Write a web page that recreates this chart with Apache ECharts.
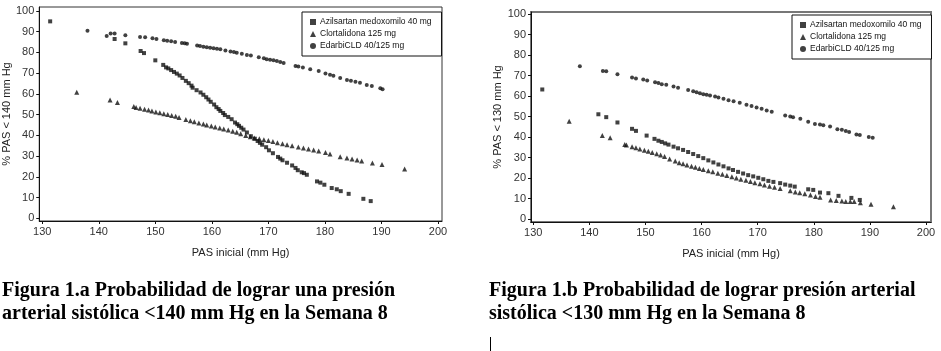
<!DOCTYPE html>
<html>
<head>
<meta charset="utf-8">
<script src="https://cdn.jsdelivr.net/npm/echarts@6/dist/echarts.min.js"></script>
<style>
  html, body { margin: 0; padding: 0; background: #fff; }
  #chart { width: 941px; height: 351px; }
</style>
</head>
<body>
<div id="chart"></div>
<script>
// Two scatter panels: probability of reaching target SBP vs. baseline SBP.

const seriesNames = ["Azilsartan medoxomilo 40 mg", "Clortalidona 125 mg", "EdarbiCLD 40/125 mg"];
const xTicks = [130, 140, 150, 160, 170, 180, 190, 200];
const yTicks = [0, 10, 20, 30, 40, 50, 60, 70, 80, 90, 100];

// Panel a: % PAS < 140 mm Hg
const azil140 = [
  [131.4, 95.0], [142.8, 86.5], [144.7, 84.4], [147.4, 80.7], [148.0, 79.7], [150.0, 76.2],
  [151.4, 74.0], [151.9, 72.8], [152.3, 72.3], [152.8, 71.5], [153.3, 70.6], [153.8, 69.8],
  [154.3, 68.9], [154.8, 67.7], [155.4, 66.3], [155.9, 65.2], [156.4, 64.0], [156.6, 63.0],
  [157.3, 61.8], [158.0, 60.7], [158.5, 59.6], [159.0, 58.4], [159.4, 57.3], [159.8, 56.2],
  [160.4, 54.9], [160.8, 53.6], [161.2, 52.7], [161.5, 51.8], [162.0, 50.8], [162.3, 49.8],
  [162.9, 48.9], [163.5, 47.8], [164.1, 46.2], [164.5, 45.4], [164.8, 44.6], [165.2, 43.7],
  [165.6, 42.8], [166.2, 41.4], [166.9, 39.6], [167.6, 38.4], [168.1, 37.3], [168.5, 36.4],
  [168.9, 35.5], [169.6, 34.3], [170.1, 32.8], [170.8, 31.4], [171.7, 29.6], [172.1, 28.8],
  [172.5, 28.0], [173.3, 26.8], [174.2, 25.5], [174.8, 24.3], [175.2, 23.2], [175.9, 22.2],
  [176.3, 21.8], [176.8, 21.0], [178.6, 17.8], [179.2, 17.2], [179.9, 16.2], [181.2, 14.6],
  [182.1, 14.0], [182.8, 13.1], [184.2, 11.8], [186.8, 9.4], [188.1, 8.3]
];
const clor140 = [
  [136.1, 60.8], [142.0, 57.1], [143.3, 55.9], [146.2, 53.9], [146.6, 53.5], [147.3, 53.1],
  [148.1, 52.6], [148.8, 52.2], [149.4, 51.8], [150.1, 51.3], [150.8, 50.9], [151.5, 50.4],
  [152.2, 50.1], [152.9, 49.6], [153.6, 49.2], [154.2, 48.6], [155.4, 47.7], [156.2, 47.1],
  [156.9, 46.6], [157.7, 46.0], [158.5, 45.5], [159.1, 45.0], [159.9, 44.5], [160.6, 44.1],
  [161.4, 43.6], [162.1, 43.1], [162.9, 42.6], [163.7, 42.0], [164.4, 41.5], [165.1, 40.8],
  [166.0, 40.0], [166.8, 39.4], [167.5, 38.7], [168.4, 38.4], [169.2, 37.9], [170.0, 37.5],
  [170.8, 37.0], [171.6, 36.5], [172.5, 36.0], [173.3, 35.5], [174.2, 35.0], [175.3, 34.4],
  [176.2, 33.9], [177.1, 33.4], [178.0, 33.0], [178.9, 32.5], [180.1, 31.7], [180.9, 31.0],
  [182.7, 29.7], [183.9, 29.1], [184.8, 28.6], [185.7, 28.1], [186.5, 27.7], [188.4, 26.7],
  [190.1, 25.9], [194.1, 23.8]
];
const edar140 = [
  [138.0, 90.5], [141.4, 87.9], [142.1, 89.2], [142.8, 89.2], [144.7, 88.3], [147.3, 87.5],
  [148.2, 87.3], [149.5, 86.8], [150.2, 86.5], [151.5, 85.9], [152.1, 85.7], [152.8, 85.4],
  [153.5, 85.0], [154.7, 84.6], [155.2, 84.4], [155.6, 84.2], [157.4, 83.4], [157.9, 83.1],
  [158.5, 82.8], [159.1, 82.5], [159.7, 82.3], [160.3, 82.0], [160.9, 81.8], [161.5, 81.5],
  [162.4, 81.0], [163.3, 80.5], [163.9, 80.2], [164.4, 79.9], [165.3, 79.4], [166.2, 78.8],
  [166.9, 78.5], [168.3, 77.7], [169.2, 77.2], [169.7, 76.7], [170.3, 76.5], [170.9, 76.2],
  [171.5, 75.9], [172.1, 75.4], [172.7, 74.9], [174.8, 73.5], [175.3, 73.2], [176.1, 72.7],
  [177.4, 71.9], [178.9, 71.1], [180.1, 69.9], [180.9, 69.3], [181.5, 68.8], [182.7, 67.7],
  [183.9, 66.7], [184.6, 66.4], [185.4, 65.9], [186.2, 65.4], [187.4, 64.3], [188.3, 63.8],
  [189.8, 62.7], [190.2, 62.2]
];

// Panel b: % PAS < 130 mm Hg
const azil130 = [
  [131.6, 63.2], [141.6, 51.1], [143.0, 49.7], [145.0, 47.1], [147.6, 44.0], [148.3, 43.0],
  [150.2, 40.7], [151.6, 39.1], [152.3, 38.2], [152.9, 37.6], [153.5, 36.9], [154.1, 36.3],
  [155.0, 35.3], [155.8, 34.5], [156.7, 33.7], [157.6, 32.7], [158.5, 31.7], [159.4, 30.7],
  [160.3, 29.7], [161.2, 28.6], [162.1, 27.6], [163.0, 26.6], [163.9, 25.7], [164.8, 24.7],
  [165.6, 23.9], [166.5, 23.0], [167.4, 22.2], [168.3, 21.4], [169.2, 20.8], [170.1, 20.1],
  [171.0, 19.4], [171.9, 18.6], [172.8, 18.1], [174.0, 17.5], [174.9, 16.8], [175.8, 16.3],
  [176.6, 15.8], [179.0, 14.5], [179.9, 14.2], [181.1, 12.9], [182.6, 12.6], [184.4, 11.3],
  [186.7, 10.3], [188.2, 9.3]
];
const clor130 = [
  [136.4, 47.7], [142.3, 40.8], [143.7, 39.6], [146.3, 36.4], [146.6, 36.1], [147.6, 35.2],
  [148.3, 34.8], [149.0, 34.2], [149.8, 33.6], [150.5, 33.0], [151.2, 32.4], [152.0, 31.8],
  [152.7, 31.2], [153.4, 30.5], [154.3, 29.3], [155.3, 28.3], [156.0, 27.5], [156.7, 26.9],
  [157.4, 26.3], [158.2, 25.8], [158.9, 25.2], [159.6, 24.7], [160.3, 24.1], [161.2, 23.5],
  [162.0, 23.0], [162.9, 22.3], [163.7, 21.8], [164.5, 21.2], [165.4, 20.6], [166.2, 20.0],
  [167.0, 19.4], [167.9, 18.9], [168.7, 18.3], [169.5, 17.7], [170.4, 17.2], [171.2, 16.6],
  [172.1, 16.0], [173.0, 15.5], [174.0, 14.9], [175.8, 13.8], [176.7, 13.2], [177.5, 12.8],
  [178.4, 12.3], [179.4, 11.7], [180.3, 11.0], [181.1, 10.6], [183.0, 9.3], [184.0, 9.0],
  [185.0, 8.8], [185.7, 8.6], [186.5, 8.5], [187.2, 8.6], [188.3, 7.9], [190.2, 7.2],
  [194.2, 6.0]
];
const edar130 = [
  [138.3, 74.5], [142.4, 72.2], [143.0, 72.1], [145.0, 70.6], [147.6, 69.1], [148.3, 68.6],
  [149.6, 68.1], [150.3, 67.6], [151.7, 66.7], [152.3, 66.3], [152.9, 65.8], [153.7, 65.5],
  [155.0, 64.7], [155.8, 64.1], [157.6, 62.9], [158.5, 62.3], [159.1, 61.8], [159.7, 61.4],
  [160.3, 60.9], [160.9, 60.6], [161.5, 60.3], [162.4, 59.8], [163.0, 59.3], [163.9, 58.7],
  [164.8, 58.0], [165.7, 57.4], [166.8, 56.7], [168.0, 55.7], [168.9, 55.1], [169.8, 54.4],
  [170.7, 53.8], [171.6, 52.9], [172.5, 52.3], [174.9, 50.5], [175.8, 50.0], [176.3, 49.7],
  [177.6, 48.9], [179.0, 47.5], [180.2, 46.4], [181.1, 46.1], [181.7, 45.8], [182.9, 45.1],
  [184.2, 43.8], [185.0, 43.5], [185.7, 43.0], [186.3, 42.5], [187.6, 41.2], [188.2, 41.0],
  [189.8, 40.0], [190.5, 39.7]
];

const panels = [
  { yName: "% PAS < 140 mm Hg", data: [azil140, clor140, edar140],
    grid: { left: 39, top: 7, width: 403, height: 214, borderColor: "#333", borderWidth: 1 },
    xRange: [129.47, 200.71], yRange: [-1.3, 101.93], legend: { left: 302, top: 12 } },
  { yName: "% PAS < 130 mm Hg", data: [azil130, clor130, edar130],
    grid: { left: 531, top: 12, width: 400, height: 210, borderColor: "#777", borderWidth: 2 },
    xRange: [129.59, 200.89], yRange: [-1.46, 101], legend: { left: 792, top: 15 } }
];

const symbols = ["rect", "triangle", "circle"];
const symbolSizes = [4, 5, 4];
const axisFont = "'Liberation Sans', Arial, sans-serif";
const captionFont = "'Liberation Serif', 'Times New Roman', serif";

function makeAxis(i, p, isX) {
  const ticks = isX ? xTicks : yTicks;
  const range = isX ? p.xRange : p.yRange;
  return {
    type: "value",
    gridIndex: i,
    min: range[0],
    max: range[1],
    name: isX ? "PAS inicial (mm Hg)" : p.yName,
    nameLocation: "middle",
    nameGap: isX ? 26 : 22,
    nameTextStyle: { fontFamily: axisFont, fontSize: 11, color: "#222" },
    axisLine: { show: true, onZero: false, lineStyle: { color: "#111", width: 1 } },
    axisTick: { show: true, customValues: ticks, length: 3, lineStyle: { color: "#111" } },
    axisLabel: { customValues: ticks, fontFamily: axisFont, fontSize: 11, color: "#333", margin: 5 },
    splitLine: { show: false }
  };
}

const option = {
  animation: false,
  backgroundColor: "#fff",
  grid: panels.map((p) => Object.assign({ show: true, backgroundColor: "#fff" }, p.grid)),
  xAxis: panels.map((p, i) => makeAxis(i, p, true)),
  yAxis: panels.map((p, i) => makeAxis(i, p, false)),
  legend: panels.map((p) => ({
    left: p.legend.left,
    top: p.legend.top,
    orient: "vertical",
    backgroundColor: "#fff",
    borderColor: "#111",
    borderWidth: 1,
    padding: [5, 10, 5, 8],
    itemGap: 2,
    itemWidth: 6,
    itemHeight: 6,
    selectedMode: false,
    data: seriesNames.map((n, k) => ({ name: n, icon: symbols[k] })),
    textStyle: { fontFamily: axisFont, fontSize: 8.5, color: "#111", lineHeight: 10, padding: [0, 0, 0, -1] }
  })),
  title: [
    { text: "Figura 1.a Probabilidad de lograr una presión\narterial sistólica <140 mm Hg en la Semana 8",
      left: 2, top: 279 },
    { text: "Figura 1.b Probabilidad de lograr presión arterial\nsistólica <130 mm Hg en la Semana 8",
      left: 489, top: 279 }
  ].map((t) => Object.assign(t, {
    padding: 0,
    textStyle: { fontFamily: captionFont, fontWeight: "bold", fontSize: 20, lineHeight: 23, color: "#000" }
  })),
  graphic: [
    { type: "rect", left: 490, top: 337, shape: { width: 1, height: 14 }, style: { fill: "#000" } }
  ],
  series: panels.flatMap((p, i) => p.data.map((d, k) => ({
    type: "scatter",
    name: seriesNames[k],
    xAxisIndex: i,
    yAxisIndex: i,
    symbol: symbols[k],
    symbolSize: symbolSizes[k],
    itemStyle: { color: "#111" },
    data: d
  })))
};

const chart = echarts.init(document.getElementById("chart"), null, { renderer: "canvas" });
chart.setOption(option);
</script>
</body>
</html>
